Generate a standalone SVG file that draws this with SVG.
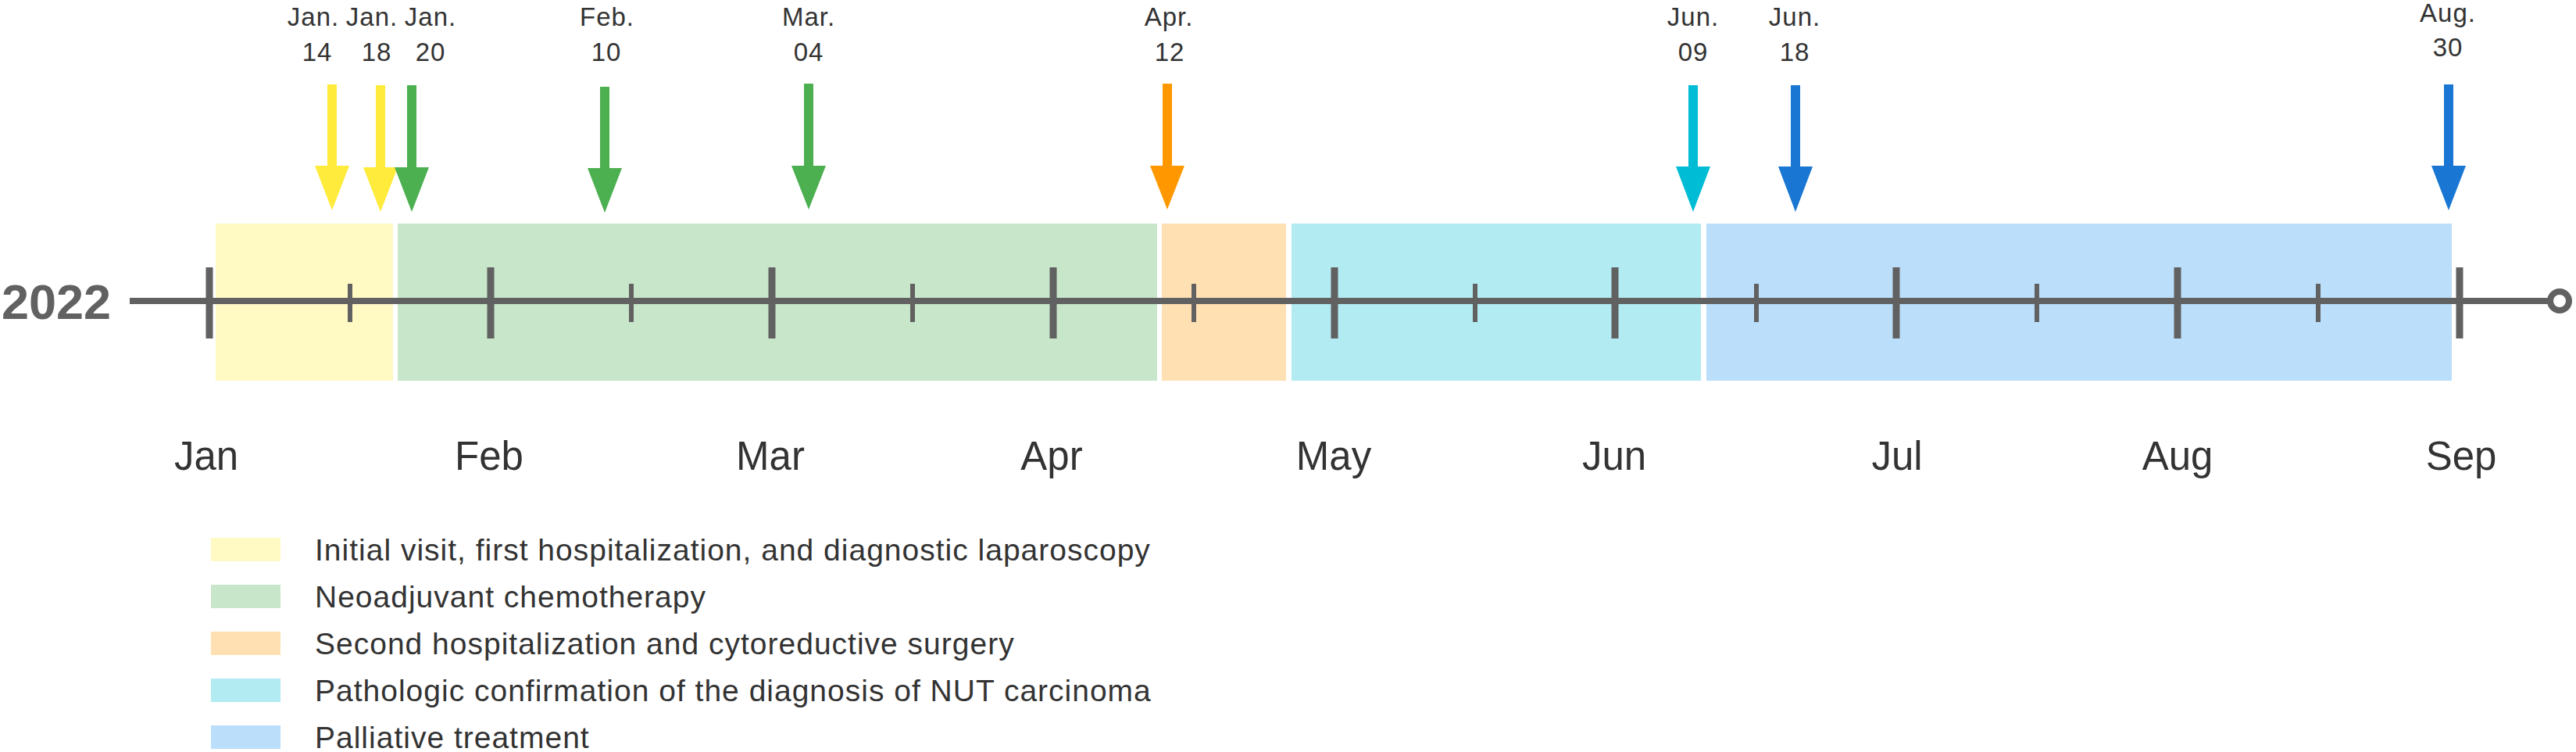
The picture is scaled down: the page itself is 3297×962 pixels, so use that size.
<svg xmlns="http://www.w3.org/2000/svg" width="3297" height="962" viewBox="0 0 3297 962">
<style>
.t{font-family:"Liberation Sans",Arial,sans-serif;fill:#333333}
.lab{font-size:33px;text-anchor:middle;letter-spacing:1px}
.mon{font-size:51px;text-anchor:middle}
.leg{font-size:39px;letter-spacing:1px}
.axis{stroke:#616161;fill:none}
.yel{fill:#FFEB3B}.grn{fill:#4CAF50}.org{fill:#FF9800}.cyn{fill:#00BCD4}.blu{fill:#1976D2}
.pY{fill:#FFF9C4}.pG{fill:#C8E6C9}.pO{fill:#FFE0B2}.pC{fill:#B2EBF2}.pB{fill:#BBDEFB}
</style>
<rect width="3297" height="962" fill="#ffffff"/>
<g id="phases">
<rect class="pY" x="276" y="286" width="227" height="201"/>
<rect class="pG" x="509" y="286" width="972" height="201"/>
<rect class="pO" x="1487" y="286" width="159" height="201"/>
<rect class="pC" x="1653" y="286" width="524" height="201"/>
<rect class="pB" x="2184" y="286" width="954" height="201"/>
</g>
<g id="connectors">
<g id="timeline">
<line class="axis" x1="166" y1="385" x2="3265" y2="385" stroke-width="8"/>
<circle class="axis" cx="3276" cy="385" r="12" stroke-width="8" style="fill:#ffffff"/>
<g class="axis" stroke-width="9">
<line x1="268" y1="342" x2="268" y2="433"/>
<line x1="628" y1="342" x2="628" y2="433"/>
<line x1="988" y1="342" x2="988" y2="433"/>
<line x1="1348" y1="342" x2="1348" y2="433"/>
<line x1="1708" y1="342" x2="1708" y2="433"/>
<line x1="2067" y1="342" x2="2067" y2="433"/>
<line x1="2427" y1="342" x2="2427" y2="433"/>
<line x1="2787" y1="342" x2="2787" y2="433"/>
<line x1="3148" y1="342" x2="3148" y2="433"/>
</g>
<g class="axis" stroke-width="6">
<line x1="448" y1="363" x2="448" y2="412"/>
<line x1="808" y1="363" x2="808" y2="412"/>
<line x1="1168" y1="363" x2="1168" y2="412"/>
<line x1="1528" y1="363" x2="1528" y2="412"/>
<line x1="1888" y1="363" x2="1888" y2="412"/>
<line x1="2248" y1="363" x2="2248" y2="412"/>
<line x1="2607" y1="363" x2="2607" y2="412"/>
<line x1="2967" y1="363" x2="2967" y2="412"/>
</g>
</g>
</g>
<g id="year"><text x="2" y="408" style="font-family:'Liberation Sans',Arial,sans-serif;font-size:63px;font-weight:bold;fill:#616161">2022</text></g>
<g id="months">
<text class="t mon" x="264" y="601">Jan</text>
<text class="t mon" x="626" y="601">Feb</text>
<text class="t mon" x="986" y="601">Mar</text>
<text class="t mon" x="1346" y="601">Apr</text>
<text class="t mon" x="1707" y="601">May</text>
<text class="t mon" x="2066" y="601">Jun</text>
<text class="t mon" x="2428" y="601">Jul</text>
<text class="t mon" x="2787" y="601">Aug</text>
<text class="t mon" x="3150" y="601">Sep</text>
</g>
<g id="ev-jan14">
<path class="yel" d="M419,108 H431 V212 H447 L425,269 L403,212 H419 Z"/>
<text class="t lab" x="401" y="33">Jan.</text><text class="t lab" x="406" y="78">14</text>
</g>
<g id="ev-jan18">
<path class="yel" d="M481,109 H493 V214 H509 L487,271 L465,214 H481 Z"/>
<text class="t lab" x="476" y="33">Jan.</text><text class="t lab" x="482" y="78">18</text>
</g>
<g id="ev-jan20">
<path class="grn" d="M521,109 H533 V214 H549 L527,271 L505,214 H521 Z"/>
<text class="t lab" x="551" y="33">Jan.</text><text class="t lab" x="551" y="78">20</text>
</g>
<g id="ev-feb10">
<path class="grn" d="M768,111 H780 V215 H796 L774,272 L752,215 H768 Z"/>
<text class="t lab" x="777" y="33">Feb.</text><text class="t lab" x="776" y="78">10</text>
</g>
<g id="ev-mar04">
<path class="grn" d="M1029,107 H1041 V212 H1057 L1035,268 L1013,212 H1029 Z"/>
<text class="t lab" x="1035" y="33">Mar.</text><text class="t lab" x="1035" y="78">04</text>
</g>
<g id="ev-apr12">
<path class="org" d="M1488,107 H1500 V212 H1516 L1494,268 L1472,212 H1488 Z"/>
<text class="t lab" x="1496" y="33">Apr.</text><text class="t lab" x="1497" y="78">12</text>
</g>
<g id="ev-jun09">
<path class="cyn" d="M2161,109 H2173 V213 H2189 L2167,271 L2145,213 H2161 Z"/>
<text class="t lab" x="2167" y="33">Jun.</text><text class="t lab" x="2167" y="78">09</text>
</g>
<g id="ev-jun18">
<path class="blu" d="M2292,109 H2304 V213 H2320 L2298,271 L2276,213 H2292 Z"/>
<text class="t lab" x="2297" y="33">Jun.</text><text class="t lab" x="2297" y="78">18</text>
</g>
<g id="ev-aug30">
<path class="blu" d="M3128,108 H3140 V212 H3156 L3134,269 L3112,212 H3128 Z"/>
<text class="t lab" x="3133" y="28">Aug.</text><text class="t lab" x="3133" y="72">30</text>
</g>
<g id="legend">
<g id="leg-1"><rect class="pY" x="270" y="688" width="89" height="30"/><text class="t leg" x="403" y="717">Initial visit, first hospitalization, and diagnostic laparoscopy</text></g>
<g id="leg-2"><rect class="pG" x="270" y="748" width="89" height="30"/><text class="t leg" x="403" y="777">Neoadjuvant chemotherapy</text></g>
<g id="leg-3"><rect class="pO" x="270" y="808" width="89" height="30"/><text class="t leg" x="403" y="837">Second hospitalization and cytoreductive surgery</text></g>
<g id="leg-4"><rect class="pC" x="270" y="868" width="89" height="30"/><text class="t leg" x="403" y="897">Pathologic confirmation of the diagnosis of NUT carcinoma</text></g>
<g id="leg-5"><rect class="pB" x="270" y="928" width="89" height="30"/><text class="t leg" x="403" y="957">Palliative treatment</text></g>
</g>
</svg>
